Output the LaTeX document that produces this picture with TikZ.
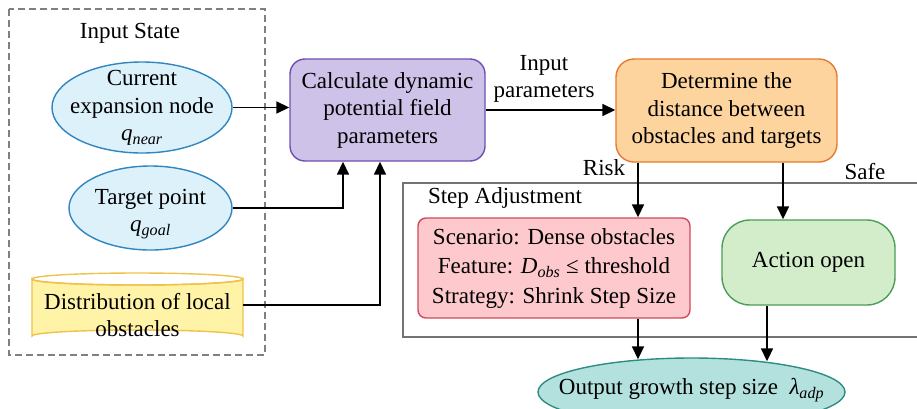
\documentclass[tikz,border=0pt]{standalone}
\usepackage{fontspec}
\setmainfont{Liberation Serif}
\usetikzlibrary{arrows.meta,shapes.geometric,calc}
\definecolor{elfill}{HTML}{DDF1FB}
\definecolor{eldraw}{HTML}{2F86C0}
\definecolor{cylfill}{HTML}{FFF3A8}
\definecolor{cyldraw}{HTML}{EFC24A}
\definecolor{pufill}{HTML}{CEC2E8}
\definecolor{pudraw}{HTML}{6E4FB0}
\definecolor{orfill}{HTML}{FDD49E}
\definecolor{ordraw}{HTML}{E67A2E}
\definecolor{refill}{HTML}{FDC9CD}
\definecolor{redraw}{HTML}{D3485A}
\definecolor{grfill}{HTML}{D3EDCB}
\definecolor{grdraw}{HTML}{4B9E55}
\definecolor{oufill}{HTML}{B3E1DD}
\definecolor{oudraw}{HTML}{2E8C82}
\begin{document}
\begin{tikzpicture}[x=1pt,y=-1pt,
  txt/.style={font=\fontsize{23}{27.5}\selectfont, align=center, inner sep=0pt},
  inell/.style={ellipse, draw=eldraw, fill=elfill, line width=1.4pt, inner sep=0pt},
  box/.style={draw, line width=1.4pt, txt, inner sep=2pt},
  arr/.style={-{Triangle[length=13pt,width=12pt]}, line width=1.7pt}]
\useasboundingbox (0,0) rectangle (917,408);
% input state frame
\draw[draw=gray, line width=1.3pt, dash pattern=on 7pt off 4pt] (9,9) rectangle (265,355);
\node[txt] (inlab) at (130,33) {Input State};
% ellipses
\node[inell, minimum width=180pt, minimum height=91pt] (e1) at (142,107.5) {};
\node[txt] (e1t) at (142,108) {Current\\expansion node\\\textit{q}\textsubscript{\textit{near}}};
\node[inell, minimum width=163pt, minimum height=84pt] (e2) at (150.5,208) {};
\node[txt] (e2t) at (150.5,214) {Target point\\\textit{q}\textsubscript{\textit{goal}}};
% cylinder
\path[fill=cylfill, draw=cyldraw, line width=1.4pt] (32,279) -- (32,336)
  arc[start angle=180, end angle=0, x radius=105.5pt, y radius=6pt] -- (243,279)
  arc[start angle=0, end angle=-180, x radius=105.5pt, y radius=6pt] -- cycle;
\draw[draw=cyldraw, line width=1.4pt] (137.5,279) ellipse[x radius=105.5pt, y radius=6pt];
\node[minimum width=211pt, minimum height=62pt, inner sep=0pt] (cyl) at (137.5,305) {};
\node[txt] (cylt) at (137.5,315) {Distribution of local\\obstacles};
% main boxes
\node[box, draw=pudraw, fill=pufill, rounded corners=15pt, minimum width=195pt, minimum height=102pt] (p) at (387.5,110) {Calculate dynamic\\potential field\\parameters};
\node[box, draw=ordraw, fill=orfill, rounded corners=18pt, minimum width=221pt, minimum height=103pt] (o) at (726.5,110.5) {Determine the\\distance between\\obstacles and targets};
\node[txt] (iplab) at (544,79) {Input\\parameters};
% step adjustment frame
\draw[draw=black!55, line width=1.6pt] (403,183) rectangle (930,337);
\node[txt] (salab) at (505,198) {Step Adjustment};
\node[txt] (risk) at (604,168) {Risk};
\node[txt] (safe) at (865,172) {Safe};
\node[box, draw=redraw, fill=refill, rounded corners=8pt, minimum width=272pt, minimum height=100pt, font=\fontsize{23}{29.5}\selectfont] (r) at (554,268) {Scenario: Dense obstacles\\Feature: \textit{D}\textsubscript{\textit{obs}} ≤ threshold\\Strategy: Shrink Step Size};
\node[box, draw=grdraw, fill=grfill, rounded corners=28pt, minimum width=173pt, minimum height=85pt] (g) at (808.5,262.5) {Action open};
% output
\node[ellipse, draw=oudraw, fill=oufill, line width=1.4pt, minimum width=307pt, minimum height=68pt, inner sep=0pt] (out) at (691.5,392) {};
\node[txt] (outt) at (691.5,390) {Output growth step size\enspace\textit{λ}\textsubscript{\textit{adp}}};
% connectors
\draw[arr] (e1.east) -- (e1.east -| p.west);
\draw[arr] (e2.east) -| ([xshift=-44.5pt]p.south);
\draw[arr] (cyl.east) -| ([xshift=-7.5pt]p.south);
\draw[arr] (p.east) -- (p.east -| o.west);
\draw[arr] ([xshift=-88.5pt]o.south) -- ([xshift=84pt]r.north);
\draw[arr] ([xshift=56.5pt]o.south) -- ([xshift=-25.5pt]g.north);
\draw[arr, shorten >=-2pt] ([xshift=84pt]r.south) -- ([xshift=84pt]r.south |- out.north);
\draw[arr, shorten >=-4pt] ([xshift=-41.5pt]g.south) -- ([xshift=-41.5pt]g.south |- out.north);
\end{tikzpicture}
\end{document}
